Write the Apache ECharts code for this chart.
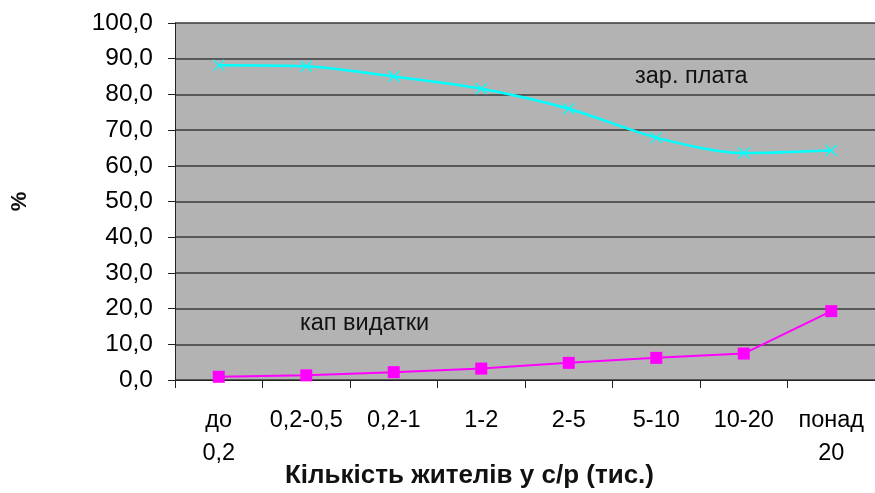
<!DOCTYPE html>
<html><head><meta charset="utf-8">
<script src="https://cdn.jsdelivr.net/npm/echarts@6/dist/echarts.min.js"></script>
<style>html,body{margin:0;padding:0;background:#fff}#c{width:875px;height:493px}</style>
</head><body><div id="c"></div>
<script>
const categories = ['до\n0,2', '0,2-0,5', '0,2-1', '1-2', '2-5', '5-10', '10-20', 'понад\n20'];
const salary = [88.2, 87.9, 85.0, 81.6, 76.0, 67.9, 63.6, 64.3];
const capex = [0.9, 1.3, 2.2, 3.2, 4.8, 6.2, 7.4, 19.3];
const yTicks = [0, 10, 20, 30, 40, 50, 60, 70, 80, 90, 100];

const chart = echarts.init(document.getElementById('c'));
const labelFont = 'Liberation Sans, Arial, sans-serif';
chart.setOption({
  animation: false,
  backgroundColor: '#fff',
  grid: { left: 175, top: 23, right: 0, bottom: 113, show: true, backgroundColor: '#b3b3b3', borderWidth: 0,
    containLabel: false, outerBoundsMode: 'none' },
  xAxis: {
    type: 'category', data: categories, boundaryGap: true,
    axisLine: { lineStyle: { color: '#222', width: 1 } },
    axisTick: { show: true, length: 8, inside: false, lineStyle: { color: '#222' } },
    axisLabel: { color: '#000', fontSize: 23.5, fontFamily: labelFont, margin: 24, lineHeight: 33, interval: 0 },
    name: ''
  },
  yAxis: {
    type: 'value', min: 0, max: 100, interval: 10,
    axisLine: { show: true, lineStyle: { color: '#222', width: 1 } },
    axisTick: { show: true, length: 7, lineStyle: { color: '#222' } },
    axisLabel: { color: '#000', fontSize: 24.5, fontFamily: labelFont, margin: 22,
      formatter: v => yTicks.includes(v) ? v.toFixed(1).replace('.', ',') : '' },
    splitLine: { show: true, lineStyle: { color: '#3a3a3a', width: 1.5 } },
    name: '%', nameLocation: 'middle', nameGap: 144, nameRotate: 90,
    nameTextStyle: { color: '#111', fontSize: 22, fontWeight: 'bold', fontFamily: labelFont }
  },
  series: [
    {
      name: 'зар. плата', type: 'line', data: salary, smooth: 0.3,
      lineStyle: { color: '#00ffff', width: 2.5 },
      symbol: 'path://M0,0L10,10M10,0L0,10', symbolSize: 11,
      itemStyle: { color: 'rgba(0,0,0,0)', borderColor: '#00ffff', borderWidth: 1.3 }
    },
    {
      name: 'кап видатки', type: 'line', data: capex,
      lineStyle: { color: '#ff00ff', width: 2 },
      symbol: 'rect', symbolSize: 12,
      itemStyle: { color: '#ff00ff' }
    }
  ],
  graphic: [
    { type: 'text', left: 635, top: 65, style: { text: 'зар. плата', fontSize: 23.5, fontFamily: labelFont, fill: '#111' } },
    { type: 'text', left: 300, top: 312, style: { text: 'кап видатки', fontSize: 23.5, fontFamily: labelFont, fill: '#111' } },
    { type: 'text', left: 285, top: 463, style: { text: 'Кількість жителів у с/р (тис.)', fontSize: 26, fontWeight: 'bold', fontFamily: labelFont, fill: '#111' } }
  ]
});
</script></body></html>
